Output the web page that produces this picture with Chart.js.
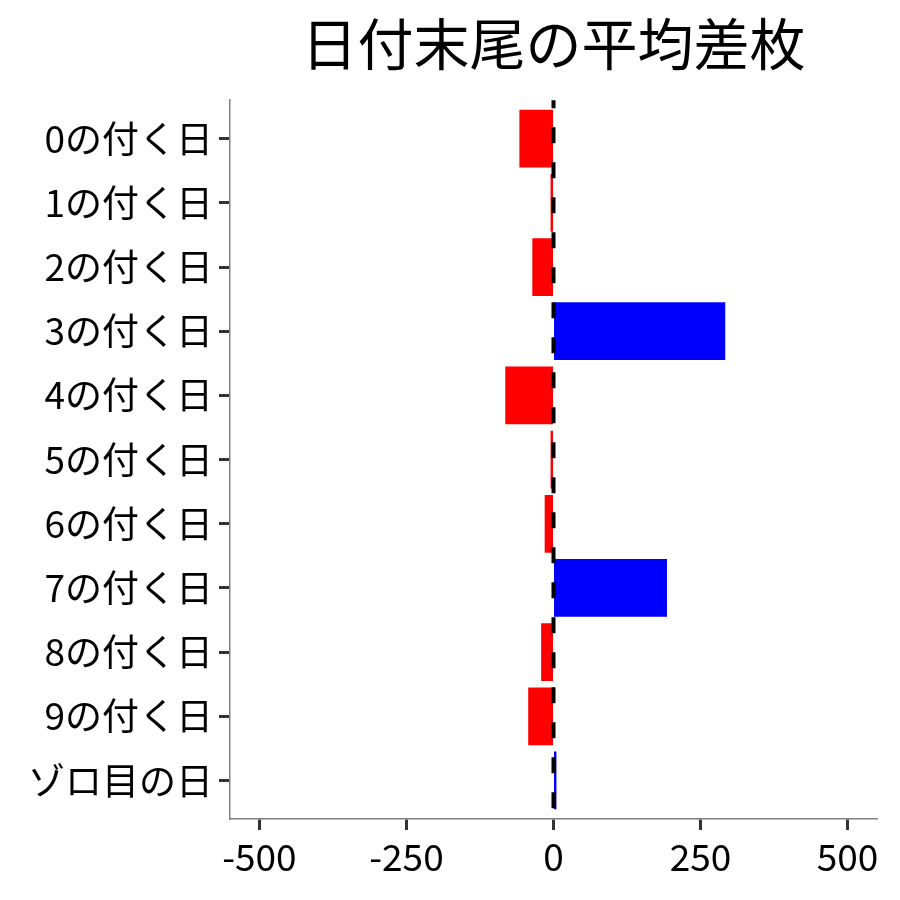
<!DOCTYPE html>
<html>
<head>
<meta charset="utf-8">
<script src="https://cdn.jsdelivr.net/npm/chart.js@4"></script>
<style>
  html, body { margin: 0; padding: 0; background: #fff; }
  #wrap { width: 900px; height: 900px; }
</style>
</head>
<body>
<div id="wrap"><canvas id="diffChart" width="900" height="900"></canvas></div>
<script>
// data
const categories = ["0の付く日", "1の付く日", "2の付く日", "3の付く日", "4の付く日",
                    "5の付く日", "6の付く日", "7の付く日", "8の付く日", "9の付く日", "ゾロ目の日"];
const avgDiff = [-58, -5, -36, 292, -82, -5, -15, 193, -21, -43, 5];
const xTicks = [-500, -250, 0, 250, 500];
const titleText = "日付末尾の平均差枚";

const FONT = "'Noto Sans CJK JP', 'Noto Sans', sans-serif";

/* ========== ZERO LINE ========== */
const zeroLine = {
    id: "zeroLine",
    afterDatasetsDraw(chart) {
        const { ctx, chartArea, scales } = chart;
        const x = scales.x.getPixelForValue(0);
        ctx.save();
        ctx.strokeStyle = "#000";
        ctx.lineWidth = 4;
        ctx.setLineDash([16, 19]);
        ctx.lineDashOffset = 8;
        ctx.beginPath();
        ctx.moveTo(x, chartArea.top);
        ctx.lineTo(x, chartArea.bottom);
        ctx.stroke();
        ctx.restore();
    }
};

const ctx = document.getElementById("diffChart").getContext("2d");
new Chart(ctx, {
    type: "bar",
    data: {
        datasets: [{
            data: avgDiff.map((v, i) => ({ x: v, y: i })),
            backgroundColor: avgDiff.map(v => v < 0 ? "#ff0000" : "#0000ff"),
            borderWidth: 0,
            barPercentage: 0.9,
            categoryPercentage: 1
        }]
    },
    options: {
        indexAxis: "y",
        responsive: false,
        animation: false,
        layout: { padding: { left: 0, right: 23, top: 0, bottom: 0 } },
        plugins: {
            legend: { display: false },
            tooltip: { enabled: false },
            title: {
                display: true,
                text: titleText,
                fullSize: false,
                color: "#000",
                font: { family: FONT, size: 56, weight: "normal", lineHeight: 1.2 },
                padding: { top: 10, bottom: 23 }
            }
        },
        scales: {
            x: {
                type: "linear",
                min: -550,
                max: 550,
                afterBuildTicks: s => { s.ticks = xTicks.map(v => ({ value: v })); },
                afterFit: s => { s.height = 81; },
                grid: { drawOnChartArea: false, tickLength: 11, tickColor: "#333", tickWidth: 3 },
                border: { display: true, color: "#808080", width: 1.5 },
                ticks: { color: "#000", padding: 5, maxRotation: 0, font: { family: FONT, size: 37 } }
            },
            y: {
                type: "linear",
                reverse: true,
                offset: false,
                min: -0.6,
                max: categories.length - 0.4,
                afterBuildTicks: s => { s.ticks = categories.map((c, i) => ({ value: i })); },
                afterFit: s => { s.width = 230; },
                grid: { offset: false, drawOnChartArea: false, tickLength: 11, tickColor: "#333", tickWidth: 3 },
                border: { display: true, color: "#808080", width: 1.5 },
                ticks: {
                    color: "#000",
                    padding: 6,
                    font: { family: FONT, size: 37 },
                    callback: v => categories[v]
                }
            }
        }
    },
    plugins: [zeroLine]
});
</script>
</body>
</html>
